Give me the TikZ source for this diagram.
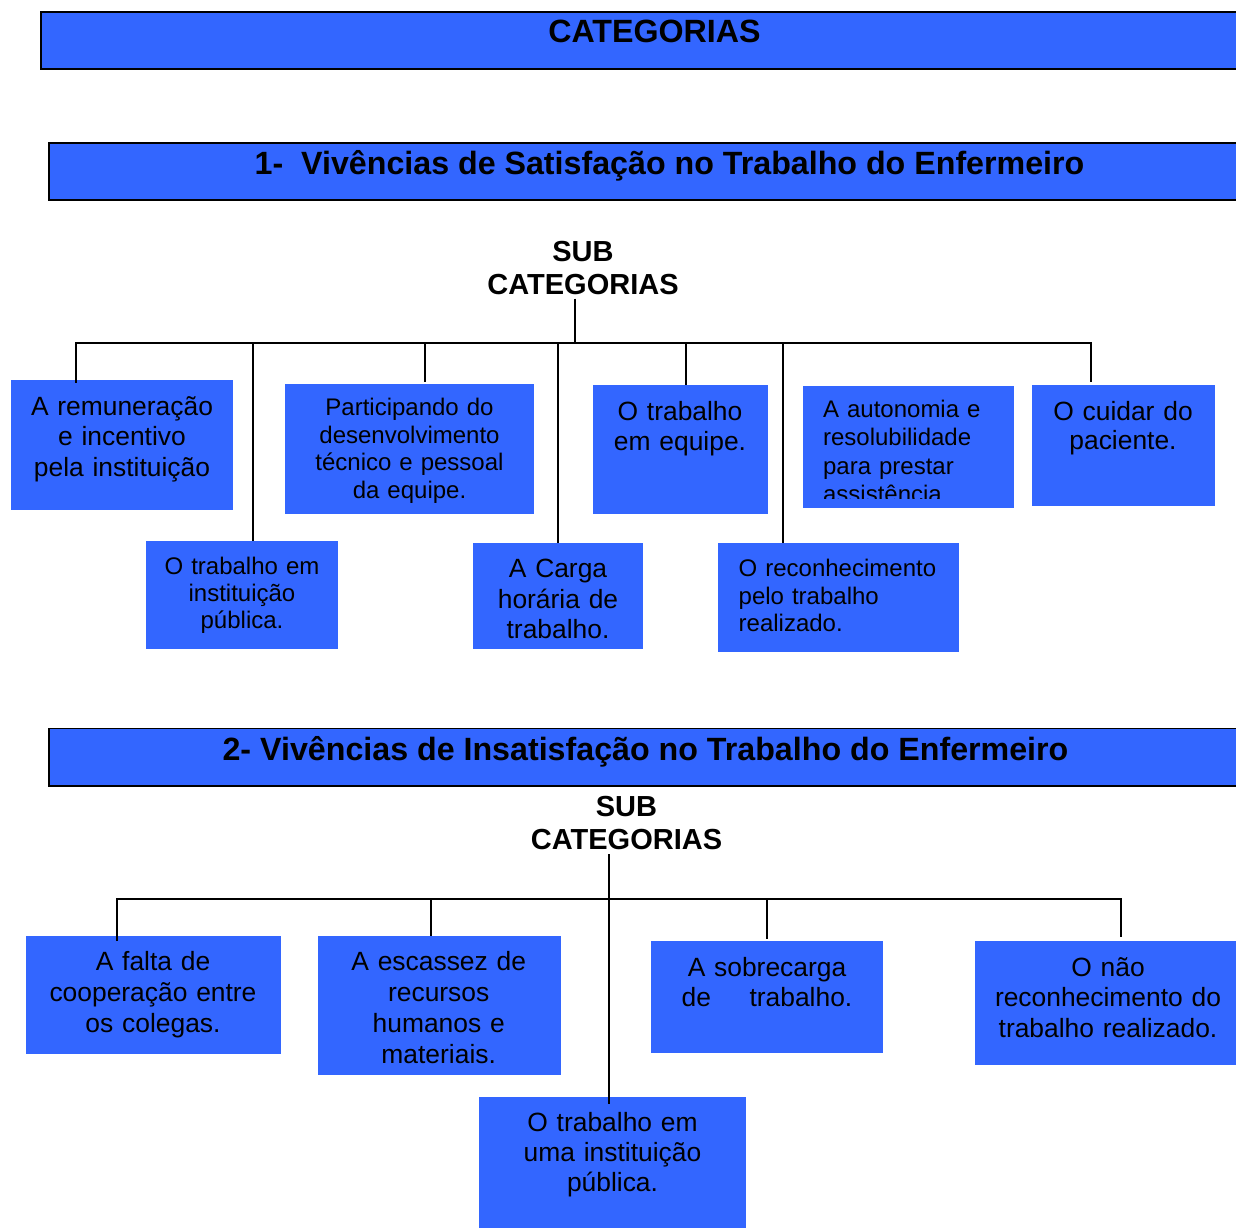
\documentclass[tikz,border=0pt]{standalone}
\usepackage{fontspec}
\setmainfont{Liberation Sans}
\usetikzlibrary{fit,calc}
\definecolor{boxblue}{RGB}{51,102,255}
\begin{document}
\begin{tikzpicture}[x=0.5pt,y=-0.5pt,
  box/.style={fill=boxblue, inner sep=0pt, draw=none},
  hdr/.style={fill=boxblue, draw=black, line width=0.9pt, inner sep=0pt},
  htext/.style={font=\fontsize{16.1}{19}\selectfont\bfseries, inner sep=0pt, anchor=base},
  subtxt/.style={font=\fontsize{14.5}{16.5}\selectfont\bfseries, inner sep=0pt, anchor=base, text width=140pt, align=center},
  ctxt/.style={inner sep=0pt, anchor=base, text width=130pt, align=center},
  ltxt/.style={inner sep=0pt, anchor=base west, text width=130pt, align=left},
  fb/.style={font=\fontsize{13.2}{#1}\selectfont},
  fs/.style={font=\fontsize{12}{#1}\selectfont},
  conn/.style={draw=black, line width=1.15pt}
]
\useasboundingbox (0,0) rectangle (1236,1227);
\clip (0,0) rectangle (1236,1227);

% headers
\node[hdr, fit={(40.7,12) (1250,69)}] (h1) {};
\node[htext] (h1t) at (654.5,42.5) {CATEGORIAS};
\node[hdr, fit={(49.3,143.3) (1250,200)}] (h2) {};
\node[htext] (h2t) at (669.5,174) {1-\ \ Vivências de Satisfação no Trabalho do Enfermeiro};
\node[hdr, fit={(49.3,728.5) (1250,785.7)}] (h3) {};
\node[htext] (h3t) at (645.5,760) {2- Vivências de Insatisfação no Trabalho do Enfermeiro};

% sub categorias
\node[subtxt] (sub1) at (583,261) {SUB\\CATEGORIAS};
\node[subtxt] (sub2) at (626.5,816) {SUB\\CATEGORIAS};

% section 1 boxes
\node[box, fit={(11,380) (233,510)}] (b1) {};
\node[ctxt, fb=15.25] (b1t) at (122,415) {A remuneração\\e incentivo\\pela instituição};
\node[box, fit={(146,541) (338,649)}] (b2) {};
\node[ctxt, fs=13.5] (b2t) at (242,574.3) {O trabalho em\\instituição\\pública.};
\node[box, fit={(285,384) (534,514)}] (b3) {};
\node[ctxt, fs=13.75] (b3t) at (409.5,415.7) {Participando do\\desenvolvimento\\técnico e pessoal\\da equipe.};
\node[box, fit={(473,543) (643,649)}] (b4) {};
\node[ctxt, fb=15.25] (b4t) at (558,577.7) {A Carga\\horária de\\trabalho.};
\node[box, fit={(593,385) (767.5,514)}] (b5) {};
\node[ctxt, fb=15] (b5t) at (680,420) {O trabalho\\em equipe.};
\node[box, fit={(718,543.3) (959,651.7)}] (b6) {};
\node[ltxt, fs=13.75] (b6t) at (738.3,576.7) {O reconhecimento\\pelo trabalho\\realizado.};
\node[box, fit={(802.7,386) (1014,508)}] (b7) {};
\begin{scope}
\clip (802.7,386) rectangle (1014,498);
\node[ltxt, fs=14.25] (b7t) at (822.7,417) {A autonomia e\\resolubilidade\\para prestar\\assistência.};
\end{scope}
\node[box, fit={(1032,385) (1215,505.7)}] (b8) {};
\node[ctxt, fb=14.5] (b8t) at (1123,420) {O cuidar do\\paciente.};

% section 1 connectors
\coordinate (bar1L) at (76,343);
\coordinate (bar1R) at (1091,343);
\coordinate (s1) at ([xshift=-4pt,yshift=-2pt]sub1.south);
\draw[conn] (s1) -- (s1 |- bar1L);
\draw[conn] ($(bar1L |- b1.north)+(0,3)$) -- (bar1L) -- (bar1R) -- ($(bar1R |- b8.north)+(0,-3)$);
\coordinate (j2) at (253,343);
\draw[conn] (j2) -- (j2 |- b2.north);
\coordinate (j3) at (425,343);
\draw[conn] (j3) -- ($(j3 |- b3.north)+(0,-2)$);
\coordinate (j4) at (558,343);
\draw[conn] (j4) -- (j4 |- b4.north);
\coordinate (j5) at (686,343);
\draw[conn] (j5) -- (j5 |- b5.north);
\coordinate (j6) at (783.3,343);
\draw[conn] (j6) -- (j6 |- b6.north);

% section 2 boxes
\node[box, fit={(26,936) (281,1053.7)}] (c1) {};
\node[ctxt, fb=15.5] (c1t) at (153,970) {A falta de\\cooperação entre\\os colegas.};
\node[box, fit={(318,936) (560.7,1074.7)}] (c2) {};
\node[ctxt, fb=15.5] (c2t) at (438.7,970) {A escassez de\\recursos\\humanos e\\materiais.};
\node[box, fit={(651,941.3) (882.8,1052.7)}] (c3) {};
\node[ctxt, fb=15.35] (c3t) at (767,976) {A sobrecarga\\de\hspace{19.25pt}trabalho.};
\node[box, fit={(975,941.3) (1236,1065)}] (c4) {};
\node[ctxt, fb=15.25] (c4t) at (1108,976) {O não\\reconhecimento do\\trabalho realizado.};
\node[box, fit={(479,1097) (746,1240)}] (c5) {};
\node[ctxt, fb=15] (c5t) at (612.5,1131) {O trabalho em\\uma instituição\\pública.};

% section 2 connectors
\coordinate (bar2L) at (117,899);
\coordinate (bar2R) at (1121,899);
\coordinate (s2) at ([xshift=-8.75pt,yshift=-2.35pt]sub2.south);
\draw[conn] (s2) -- ($(s2 |- c5.north)+(0,7)$);
\draw[conn] ($(bar2L |- c1.north)+(0,5)$) -- (bar2L) -- (bar2R) -- ($(bar2R |- c4.north)+(0,-4)$);
\coordinate (j7) at (431,899);
\draw[conn] (j7) -- (j7 |- c2.north);
\coordinate (j8) at (767,899);
\draw[conn] (j8) -- ($(j8 |- c3.north)+(0,-2)$);
\end{tikzpicture}
\end{document}
